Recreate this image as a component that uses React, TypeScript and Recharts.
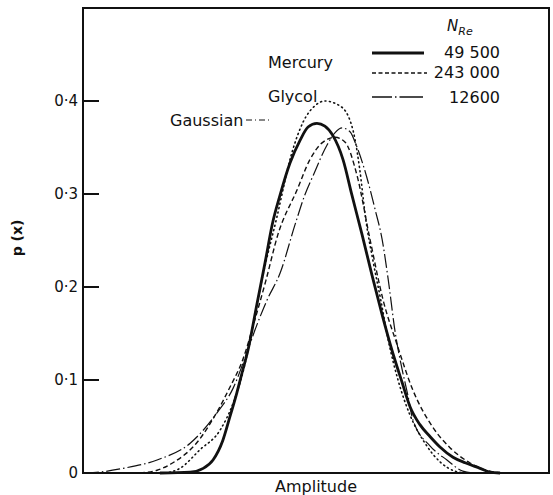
import React from 'react';
import { LineChart, Line, XAxis, YAxis, ReferenceArea } from 'recharts';

// amplitude (arbitrary units, 0 = centre of plot) and p(x)
const mercuryX = [-3.35, -2.7, -2.42, -2.21, -2.0, -1.85, -1.7, -1.57, -1.46, -1.27, -1.09, -0.94, -0.77, -0.56, -0.34, -0.17, 0.02, 0.19, 0.36, 0.58, 0.77, 0.99, 1.2, 1.42, 1.63, 1.85, 2.02, 2.23, 2.45, 2.66, 2.94, 3.2, 3.52, 3.73, 3.95];
const mercuryY = [0, 0.001, 0.005, 0.014, 0.035, 0.06, 0.086, 0.111, 0.132, 0.181, 0.227, 0.267, 0.299, 0.333, 0.358, 0.372, 0.376, 0.373, 0.363, 0.337, 0.299, 0.256, 0.213, 0.17, 0.132, 0.097, 0.071, 0.052, 0.039, 0.028, 0.017, 0.011, 0.005, 0.001, 0];

const mercuryHighX = [-3.78, -3.41, -3.07, -2.55, -2.12, -1.85, -1.57, -1.31, -1.07, -0.82, -0.41, -0.13, 0.13, 0.41, 0.62, 0.88, 1.16, 1.44, 1.74, 2.08, 2.51, 2.88, 3.3, 3.73, 4.06];
const mercuryHighY = [0, 0.003, 0.011, 0.033, 0.066, 0.092, 0.122, 0.165, 0.208, 0.256, 0.304, 0.337, 0.355, 0.361, 0.356, 0.32, 0.251, 0.186, 0.138, 0.089, 0.049, 0.027, 0.011, 0.002, 0];

const glycolX = [-4.96, -4.64, -4.14, -3.41, -2.7, -2.12, -1.78, -1.48, -1.27, -1.05, -0.77, -0.45, -0.24, -0.06, 0.24, 0.41, 0.56, 0.73, 0.86, 1.09, 1.27, 1.42, 1.55, 1.7, 1.85, 1.97, 2.08, 2.45, 2.81, 3.15, 3.41];
const glycolY = [0, 0.001, 0.005, 0.014, 0.032, 0.065, 0.091, 0.13, 0.159, 0.186, 0.215, 0.267, 0.299, 0.32, 0.353, 0.366, 0.371, 0.367, 0.353, 0.318, 0.283, 0.251, 0.208, 0.151, 0.111, 0.084, 0.057, 0.029, 0.014, 0.002, 0];

const gaussX = [-3.24, -2.92, -2.49, -2.06, -1.78, -1.57, -1.37, -1.16, -0.84, -0.52, -0.28, -0.02, 0.19, 0.47, 0.69, 0.84, 0.94, 1.07, 1.22, 1.39, 1.55, 1.76, 2.02, 2.34, 2.66, 2.98, 3.2];
const gaussY = [0, 0.005, 0.025, 0.046, 0.075, 0.108, 0.154, 0.208, 0.275, 0.344, 0.377, 0.395, 0.4, 0.396, 0.384, 0.358, 0.326, 0.272, 0.229, 0.186, 0.143, 0.1, 0.062, 0.032, 0.012, 0.002, 0];

const yTicks = [0, 0.1, 0.2, 0.3, 0.4];
const legendNames = ['49 500', '243 000', '12600'];

const toPoints = (xs: number[], ys: number[]) => xs.map((x, i) => ({ x, y: ys[i] }));

const INK = '#111';
const FONT = '"DejaVu Sans", sans-serif';

const fmtTick = (v: number) => (v === 0 ? '0' : v.toFixed(1).replace('.', '·'));

const YTick = (props: any) => {
  const { x, y, payload } = props;
  return (
    <g>
      <line x1={x} x2={x + 16} y1={y} y2={y} stroke={INK} strokeWidth={2} />
      <text x={x - 5} y={y} dy={5} textAnchor="end" fontSize={15} fill={INK} fontFamily={FONT}>
        {fmtTick(payload.value)}
      </text>
    </g>
  );
};

export default function App() {
  return (
    <div style={{ position: 'absolute', left: 0, top: 0, width: 553, height: 495, background: '#fff' }}>
      <LineChart
        width={553}
        height={495}
        margin={{ top: 8, right: 4, bottom: 0, left: 0 }}
        style={{ fontFamily: FONT }}
      >
        <XAxis
          type="number"
          dataKey="x"
          domain={[-5, 5]}
          tick={false}
          tickLine={false}
          height={22}
          axisLine={{ stroke: INK, strokeWidth: 2 }}
          label={{ value: 'Amplitude', position: 'insideBottom', offset: 3, fill: INK, fontSize: 16 }}
        />
        <YAxis
          type="number"
          domain={[0, 0.5]}
          ticks={yTicks}
          width={83}
          tickSize={0}
          tickMargin={0}
          tickLine={false}
          tick={<YTick />}
          axisLine={{ stroke: INK, strokeWidth: 2 }}
        />
        {/* frame round the plot */}
        <ReferenceArea x1={-5} x2={5} y1={0} y2={0.5} fill="none" stroke={INK} strokeWidth={2} />
        <Line
          data={toPoints(gaussX, gaussY)}
          dataKey="y"
          type="monotone"
          stroke={INK}
          strokeWidth={1.6}
          strokeDasharray="1 3.5"
          strokeLinecap="round"
          dot={false}
          isAnimationActive={false}
        />
        <Line
          data={toPoints(glycolX, glycolY)}
          dataKey="y"
          type="monotone"
          stroke={INK}
          strokeWidth={1.2}
          strokeDasharray="14 3 1.5 3"
          dot={false}
          isAnimationActive={false}
        />
        <Line
          data={toPoints(mercuryHighX, mercuryHighY)}
          dataKey="y"
          type="monotone"
          stroke={INK}
          strokeWidth={1.4}
          strokeDasharray="5 3"
          dot={false}
          isAnimationActive={false}
        />
        <Line
          data={toPoints(mercuryX, mercuryY)}
          dataKey="y"
          type="monotone"
          stroke={INK}
          strokeWidth={2.8}
          dot={false}
          isAnimationActive={false}
        />
      </LineChart>

      <svg
        width={553}
        height={495}
        style={{ position: 'absolute', left: 0, top: 0, pointerEvents: 'none' }}
        fontFamily={FONT}
        fill={INK}
      >
        <text x={17} y={238} transform="rotate(-90 17 238)" textAnchor="middle" dominantBaseline="central" fontSize={14} fontWeight="bold">
          p (x)
        </text>

        <text x={447} y={31} fontSize={15} fontStyle="italic">
          N<tspan fontSize={11} dy={4}>Re</tspan>
        </text>

        <text x={268} y={68} fontSize={16}>Mercury</text>
        <text x={268} y={102} fontSize={16}>Glycol</text>
        <text x={170} y={126} fontSize={16}>Gaussian</text>
        <line x1={246} x2={270} y1={120} y2={120} stroke={INK} strokeWidth={1} strokeDasharray="6 3 1 3" />

        <line x1={372} x2={424} y1={53} y2={53} stroke={INK} strokeWidth={3} />
        <line x1={372} x2={427} y1={73} y2={73} stroke={INK} strokeWidth={1.3} strokeDasharray="4 2.5" />
        <line x1={372} x2={423} y1={97} y2={97} stroke={INK} strokeWidth={1.3} strokeDasharray="20 3 1.5 3 30" />

        <text x={500} y={58} fontSize={16} textAnchor="end">{legendNames[0]}</text>
        <text x={500} y={78} fontSize={16} textAnchor="end">{legendNames[1]}</text>
        <text x={500} y={103} fontSize={16} textAnchor="end">{legendNames[2]}</text>
      </svg>
    </div>
  );
}
